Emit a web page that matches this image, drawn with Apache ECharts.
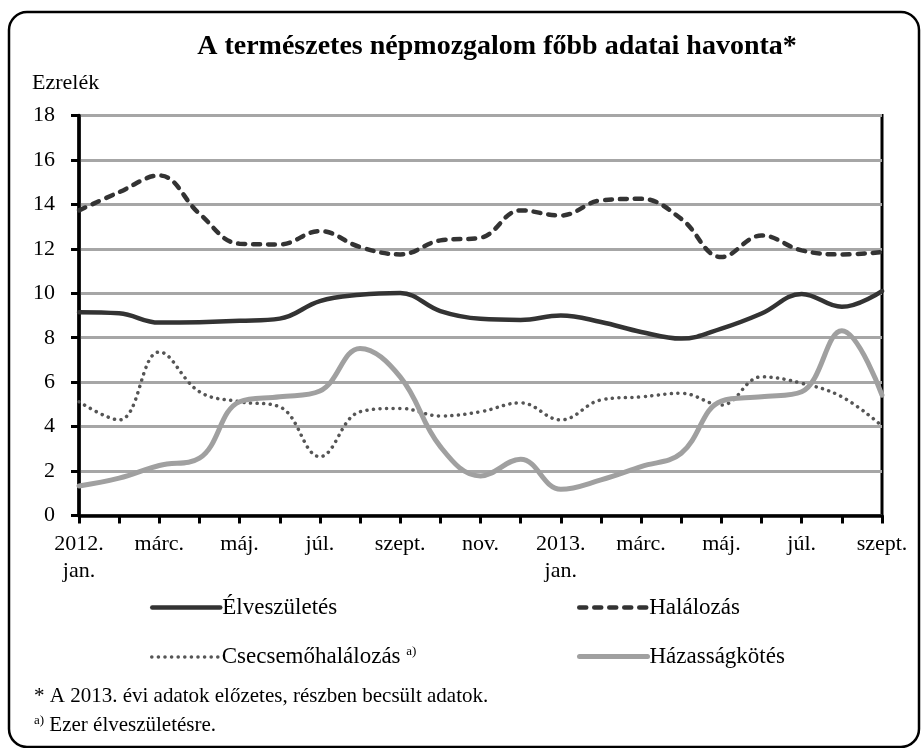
<!DOCTYPE html>
<html>
<head>
<meta charset="utf-8">
<script src="https://cdn.jsdelivr.net/npm/echarts@6.0.0/dist/echarts.min.js"></script>
<style>
  html, body { margin: 0; padding: 0; background: #fff; }
  #chart { width: 922px; height: 748px; }
</style>
</head>
<body>
<div id="chart"></div>
<script>
// Adatok (ezrelék), 2012. jan. – 2013. szept.
const months = ["2012.\njan.", "febr.", "márc.", "ápr.", "máj.", "jún.", "júl.", "aug.", "szept.", "okt.", "nov.", "dec.",
    "2013.\njan.", "febr.", "márc.", "ápr.", "máj.", "jún.", "júl.", "aug.", "szept."];
const eleveszuletes = [9.15, 9.1, 8.68, 8.7, 8.76, 8.86, 9.65, 9.93, 10.01, 9.2, 8.85, 8.8, 9.0, 8.71, 8.26, 7.96, 8.41, 9.09, 9.97, 9.39, 10.1];
const halalozas = [13.73, 14.55, 15.3, 13.58, 12.23, 12.2, 12.8, 12.08, 11.75, 12.38, 12.5, 13.73, 13.5, 14.18, 14.25, 13.35, 11.63, 12.6, 11.93, 11.75, 11.85];
const csecsemohalalozas = [5.12, 4.3, 7.36, 5.57, 5.12, 4.89, 2.65, 4.67, 4.82, 4.48, 4.67, 5.07, 4.3, 5.2, 5.34, 5.5, 4.97, 6.24, 5.95, 5.34, 4.03];
const hazassagkotes = [1.33, 1.68, 2.25, 2.58, 5.12, 5.34, 5.6, 7.52, 6.24, 3.1, 1.78, 2.53, 1.18, 1.6, 2.2, 2.8, 5.15, 5.34, 5.57, 8.31, 5.42];
const yTicks = { min: 0, max: 18, interval: 2 };

const FONT = "Liberation Serif";
const chart = echarts.init(document.getElementById("chart"));

const legendBase = {
    padding: 0,
    itemWidth: 68,
    itemHeight: 14,
    selectedMode: false,
    lineStyle: { width: "inherit" },
    // pas de marqueur au milieu de l'icône
    itemStyle: { color: "rgba(0,0,0,0)", borderWidth: 0, opacity: 0 },
    textStyle: {
        fontFamily: FONT, fontSize: 23, color: "#000", padding: [0, 0, 0, -3],
        rich: { sup: { fontFamily: FONT, fontSize: 13, color: "#000", padding: [0, 0, 11, 0] } }
    },
    formatter: name => name === "Csecsemőhalálozás" ? name + " {sup|a)}" : name
};

chart.setOption({
    backgroundColor: "#fff",
    animation: false,
    title: {
        text: "A természetes népmozgalom főbb adatai havonta*",
        left: 492,
        top: 28,
        textAlign: "center",
        textStyle: { fontFamily: FONT, fontSize: 28, fontWeight: "bold", color: "#000" }
    },
    legend: [
        Object.assign({}, legendBase, { data: ["Élveszületés"], left: 150, top: 596 }),
        Object.assign({}, legendBase, { data: ["Halálozás"], left: 577, top: 596 }),
        Object.assign({}, legendBase, { data: ["Csecsemőhalálozás"], left: 150, top: 645 }),
        Object.assign({}, legendBase, { data: ["Házasságkötés"], left: 577, top: 645 })
    ],
    grid: {
        left: 79, top: 115.5, width: 803, height: 400,
        show: true, borderColor: "#000", borderWidth: 3
    },
    xAxis: {
        type: "category",
        data: months,
        boundaryGap: false,
        axisLine: { lineStyle: { color: "#000", width: 3.5 } },
        axisTick: { show: true, interval: 0, length: 8, lineStyle: { color: "#000", width: 3 } },
        axisLabel: {
            interval: 1, margin: 15, color: "#000",
            fontFamily: FONT, fontSize: 22, lineHeight: 27
        },
        splitLine: { show: false }
    },
    yAxis: {
        type: "value",
        min: yTicks.min, max: yTicks.max, interval: yTicks.interval,
        axisLine: { show: true, lineStyle: { color: "#000", width: 3.5 } },
        axisTick: { show: true, length: 8, lineStyle: { color: "#000", width: 3 } },
        axisLabel: { margin: 24, color: "#000", fontFamily: FONT, fontSize: 22 },
        splitLine: { lineStyle: { color: "#a6a6a6", width: 3 } }
    },
    graphic: [
        {
            type: "rect", silent: true, z: -1,
            shape: { x: 9, y: 12, width: 910, height: 735, r: 18 },
            style: { fill: "none", stroke: "#000", lineWidth: 2.5 }
        },
        {
            type: "text", left: 32, top: 72,
            style: { text: "Ezrelék", font: `22px "${FONT}"`, fill: "#000" }
        },
        {
            type: "text", left: 34, top: 686,
            style: { text: "* A 2013. évi adatok előzetes, részben becsült adatok.", font: `21px "${FONT}"`, fill: "#000" }
        },
        {
            type: "text", left: 34, top: 714,
            style: {
                text: "{sup|a)} Ezer élveszületésre.",
                font: `21px "${FONT}"`, fill: "#000",
                rich: { sup: { fontFamily: FONT, fontSize: 13, fill: "#000", padding: [0, 0, 9, 0] } }
            }
        }
    ],
    series: [
        {
            name: "Élveszületés", type: "line", data: eleveszuletes,
            smooth: 0.4, symbol: "none",
            lineStyle: { color: "#333", width: 4.5, cap: "round" },
            itemStyle: { color: "#333" }
        },
        {
            name: "Halálozás", type: "line", data: halalozas,
            smooth: 0.4, symbol: "none",
            lineStyle: { color: "#333", width: 4.5, type: [7, 8], cap: "round" },
            itemStyle: { color: "#333" }
        },
        {
            name: "Csecsemőhalálozás", type: "line", data: csecsemohalalozas,
            smooth: 0.4, symbol: "none",
            lineStyle: { color: "#555", width: 3.5, type: [0.1, 6.5], cap: "round" },
            itemStyle: { color: "#555" }
        },
        {
            name: "Házasságkötés", type: "line", data: hazassagkotes,
            smooth: 0.4, symbol: "none",
            lineStyle: { color: "#a0a0a0", width: 5, cap: "round" },
            itemStyle: { color: "#a0a0a0" }
        }
    ]
});

window.addEventListener("resize", () => chart.resize());
</script>
</body>
</html>
